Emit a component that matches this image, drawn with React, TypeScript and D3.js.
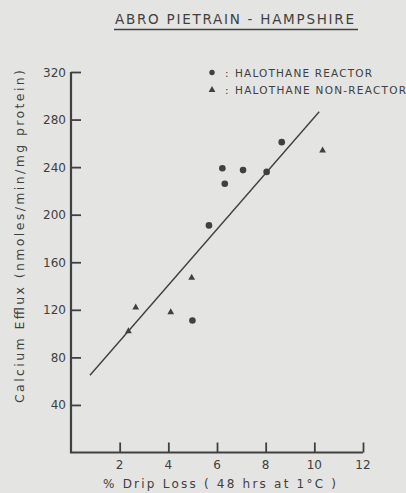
import { useEffect, useRef } from "react";
import * as d3 from "d3";

// % drip loss and calcium efflux
const reactorX = [8.66, 6.22, 7.07, 8.04, 6.32, 5.67, 4.99];
const reactorY = [261, 239, 237.5, 236, 226, 191, 111];
const nonReactorX = [10.34, 4.96, 2.66, 4.1, 2.36];
const nonReactorY = [254, 147, 122, 118, 102];
// regression line end points
const fitX = [0.78, 10.2];
const fitY = [65, 286.5];

const xTicks = [2, 4, 6, 8, 10, 12];
const yTicks = [40, 80, 120, 160, 200, 240, 280, 320];

const INK = "#404040";
const BG = "#e4e4e2";

function App() {
	const ref = useRef<SVGSVGElement>(null);

	useEffect(() => {
		document.body.style.margin = "0";
		drawChart();
	}, []);

	function drawChart() {
		const svg = d3.select(ref.current);
		svg.selectAll("*").remove();

		const width = 406;
		const height = 493;
		const font = "'DejaVu Sans', 'Liberation Sans', sans-serif";

		svg.append("rect").attr("width", width).attr("height", height).attr("fill", BG);

		const x = d3.scaleLinear().domain([0, 12]).range([71, 363]);
		const y = d3.scaleLinear().domain([0, 320]).range([452.5, 72]);

		// Title with underline
		svg.append("text")
			.attr("x", 115)
			.attr("y", 23.5)
			.attr("font-family", font)
			.attr("font-size", 13.5)
			.attr("fill", INK)
			.attr("textLength", 239)
			.attr("lengthAdjust", "spacing")
			.text("ABRO  PIETRAIN - HAMPSHIRE");
		svg.append("line")
			.attr("x1", 114)
			.attr("x2", 358)
			.attr("y1", 29.5)
			.attr("y2", 29.5)
			.attr("stroke", INK)
			.attr("stroke-width", 1.3);

		// Axes (ticks pointing inward)
		const xAxis = svg
			.append("g")
			.attr("transform", `translate(0, ${y(0)})`)
			.call(d3.axisTop(x).tickValues(xTicks).tickSize(10).tickFormat(() => "").tickSizeOuter(0));
		xAxis.select(".domain").remove();
		xAxis.selectAll("line").attr("stroke", INK).attr("stroke-width", 1.8);

		const yAxis = svg
			.append("g")
			.attr("transform", `translate(${x(0)}, 0)`)
			.call(d3.axisRight(y).tickValues(yTicks).tickSize(10).tickFormat(() => "").tickSizeOuter(0));
		yAxis.select(".domain").remove();
		yAxis.selectAll("line").attr("stroke", INK).attr("stroke-width", 1.8);

		svg.append("path")
			.attr("d", `M${x(0)},${y(320)}V${y(0)}H${x(12)}`)
			.attr("fill", "none")
			.attr("stroke", INK)
			.attr("stroke-width", 2.2);

		// Tick labels
		svg.append("g")
			.selectAll("text")
			.data(xTicks)
			.join("text")
			.attr("x", (d) => x(d))
			.attr("y", 469)
			.attr("text-anchor", "middle")
			.attr("font-family", font)
			.attr("font-size", 12)
			.attr("fill", INK)
			.text((d) => d);

		svg.append("g")
			.selectAll("text")
			.data(yTicks)
			.join("text")
			.attr("x", 66)
			.attr("y", (d) => y(d) + 4.5)
			.attr("text-anchor", "end")
			.attr("font-family", font)
			.attr("font-size", 12)
			.attr("fill", INK)
			.text((d) => d);

		// Axis titles
		svg.append("text")
			.attr("x", 103)
			.attr("y", 488)
			.attr("font-family", font)
			.attr("font-size", 12)
			.attr("fill", INK)
			.attr("textLength", 233)
			.attr("lengthAdjust", "spacing")
			.text("% Drip Loss  ( 48 hrs  at 1°C )");

		svg.append("text")
			.attr("transform", "translate(24, 403) rotate(-90)")
			.attr("font-family", font)
			.attr("font-size", 12.5)
			.attr("fill", INK)
			.attr("textLength", 333)
			.attr("lengthAdjust", "spacing")
			.text("Calcium  Efflux (nmoles/min/mg protein)");

		// Regression line
		svg.append("line")
			.attr("x1", x(fitX[0]))
			.attr("y1", y(fitY[0]))
			.attr("x2", x(fitX[1]))
			.attr("y2", y(fitY[1]))
			.attr("stroke", INK)
			.attr("stroke-width", 1.4);

		// Points
		svg.append("g")
			.selectAll("circle")
			.data(reactorX.map((d, i) => [d, reactorY[i]]))
			.join("circle")
			.attr("cx", (d) => x(d[0]))
			.attr("cy", (d) => y(d[1]))
			.attr("r", 3.3)
			.attr("fill", INK);

		const tri = d3.symbol().type(d3.symbolTriangle).size(20);
		svg.append("g")
			.selectAll("path")
			.data(nonReactorX.map((d, i) => [d, nonReactorY[i]]))
			.join("path")
			.attr("d", tri)
			.attr("transform", (d) => `translate(${x(d[0])}, ${y(d[1])})`)
			.attr("fill", INK);

		// Legend
		const legend = svg.append("g").attr("font-family", font).attr("font-size", 10.5).attr("fill", INK);
		legend.append("circle").attr("cx", 212).attr("cy", 72.5).attr("r", 2.7).attr("fill", INK);
		legend.append("path").attr("d", tri).attr("transform", "translate(212, 90)").attr("fill", INK);
		legend.append("text").attr("x", 225).attr("y", 76.5).text(":");
		legend.append("text").attr("x", 225).attr("y", 94).text(":");
		legend.append("text")
			.attr("x", 235)
			.attr("y", 76.5)
			.attr("textLength", 137)
			.attr("lengthAdjust", "spacing")
			.text("HALOTHANE REACTOR");
		legend.append("text")
			.attr("x", 235)
			.attr("y", 94)
			.attr("textLength", 171)
			.attr("lengthAdjust", "spacing")
			.text("HALOTHANE NON-REACTOR");
	}

	return <svg ref={ref} width={406} height={493} style={{ display: "block" }} />;
}

export default App;
